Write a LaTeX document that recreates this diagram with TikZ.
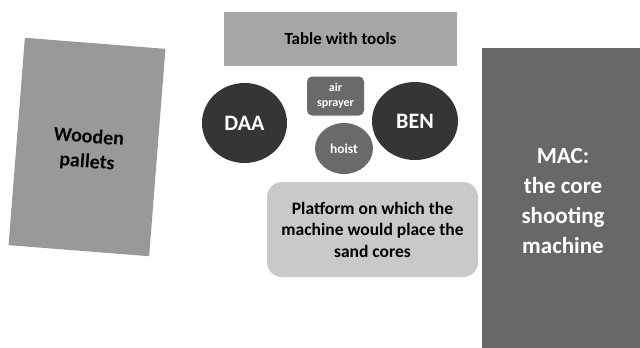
\documentclass[tikz,border=0pt]{standalone}
\usepackage{fontspec}
\setmainfont{Carlito}
\definecolor{pallet}{HTML}{999999}
\definecolor{tablec}{HTML}{A6A6A6}
\definecolor{person}{HTML}{353535}
\definecolor{tool}{HTML}{6A6A6A}
\definecolor{platc}{HTML}{C9C9C9}
\definecolor{macc}{HTML}{686868}
\tikzset{
  area/.style={inner sep=0pt, align=center, font=\bfseries},
  personc/.style={ellipse, fill=person, text=white, inner sep=0pt, font=\bfseries\fontsize{22}{26}\selectfont},
}
\usetikzlibrary{shapes.geometric}
\begin{document}
\begin{tikzpicture}[x=1pt,y=-1pt]
\useasboundingbox (0,0) rectangle (640,348);
% wooden pallets
\node[area, fill=pallet, minimum width=141pt, minimum height=208pt, rotate=-4.5] (pal) at (87,147) {};
\node[area, rotate=-4.5, font=\bfseries\fontsize{20}{25}\selectfont] (paltxt) at (88,150) {Wooden\\pallets};
% table
\node[area, fill=tablec, minimum width=233pt, minimum height=54pt,
  font=\bfseries\fontsize{17}{20}\selectfont] (tab) at (340.5,39) {Table with tools};
% people
\node[personc, minimum width=85pt, minimum height=80pt] (daa) at (244.5,123) {DAA};
\node[personc, minimum width=86pt, minimum height=78pt] (ben) at (415,121) {BEN};
% tools
\node[area, fill=tool, text=white, rounded corners=5pt, minimum width=57pt, minimum height=39pt,
  font=\bfseries\fontsize{12}{15}\selectfont] (air) at (335.5,96) {air\\sprayer};
\node[ellipse, fill=tool, text=white, inner sep=0pt, minimum width=58pt, minimum height=51pt,
  font=\bfseries\fontsize{13.5}{16}\selectfont] (hoist) at (344,148.5) {hoist};
% platform
\node[area, fill=platc, rounded corners=15pt, minimum width=211pt, minimum height=95pt,
  font=\bfseries\fontsize{17.5}{21.5}\selectfont] (plat) at (372.5,229.5)
  {Platform on which the\\machine would place the\\sand cores};
% machine
\node[area, fill=macc, minimum width=158pt, minimum height=300pt] (mac) at (561,198) {};
\node[area, text=white, font=\bfseries\fontsize{23}{30}\selectfont] (mactxt) at (563,201) {MAC:\\the core\\shooting\\machine};
\end{tikzpicture}
\end{document}
